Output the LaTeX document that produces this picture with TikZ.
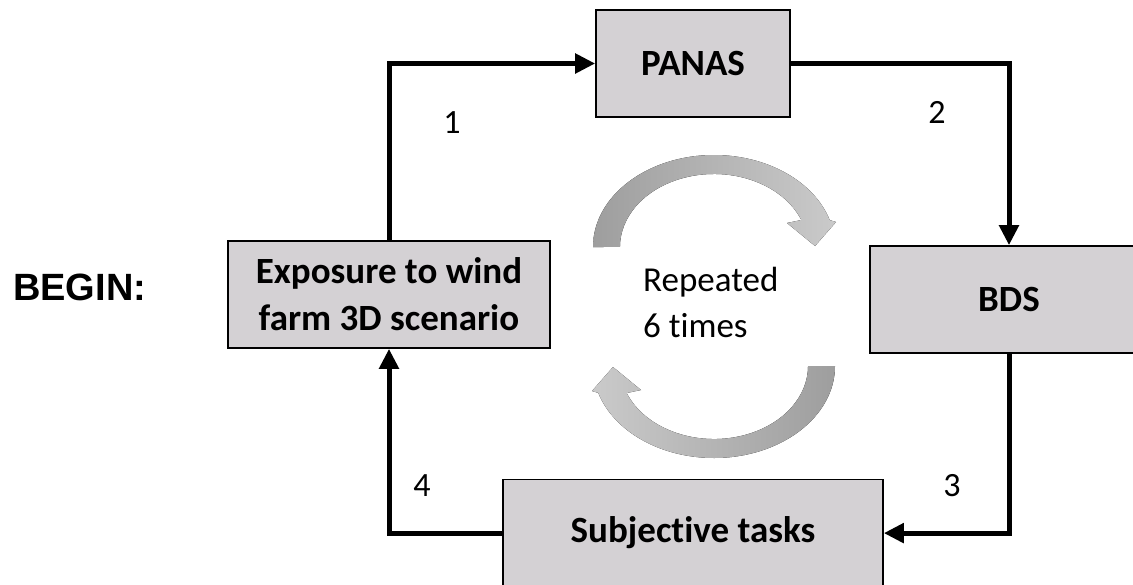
\documentclass[tikz,border=0pt]{standalone}
\usepackage{fontspec}
\setmainfont{Carlito}[Ligatures=NoCommon]
\newfontfamily\beginfont{Liberation Sans}
\usetikzlibrary{arrows.meta,positioning,calc}
\definecolor{boxgray}{RGB}{212,209,212}
\definecolor{ringdark}{RGB}{158,158,158}
\definecolor{ringlight}{RGB}{202,202,202}
\tikzset{
  % Define standard arrow tip
  >={Triangle[length=20pt,width=19pt]},
  % Define style for boxes
  box/.style={
    rectangle,
    draw=black, line width=1.6pt,
    fill=boxgray,
    minimum height=107pt,
    inner sep=0pt,
    align=center,
    font=\fontsize{37}{47}\selectfont\bfseries},
  % Define style for the step numbers
  num/.style={
    inner sep=0pt,
    font=\fontsize{34}{40}\selectfont},
  % line
  line/.style = {draw, ->, line width=5pt},
}

\begin{document}
\begin{tikzpicture}[x=1pt, y=-1pt]
  \useasboundingbox (0,0) rectangle (1133,584);
  \fill[white] (0,0) rectangle (1133,584);
  % nodes
  \node[box, minimum width=194pt] (panas) at (693,63.5) {PANAS};
  \node[box, minimum width=380pt, below=361pt of panas] (subj) {Subjective tasks};
  \node[box, minimum width=322pt] (expo) at (389,294.5) {Exposure to wind\\farm 3D scenario};
  \node[box, minimum width=278pt] (bds) at (1009,299.5) {BDS};
  \node[anchor=base west, inner sep=0pt,
    font=\beginfont\fontsize{38}{40}\selectfont\bfseries] (start) at (13,300) {BEGIN:};
  \node[align=left, anchor=north west, inner sep=0pt,
    font=\fontsize{35}{46}\selectfont] (rep) at (643,267) {Repeated\\6 times};
  % numbers
  \node[num] (n1) at (452,123) {1};
  \node[num] (n2) at (937,112) {2};
  \node[num] (n3) at (952,486) {3};
  \node[num] (n4) at (422,486) {4};
  % connectors
  \path[line] (expo.north) |- (panas.west);
  \path[line] (panas.east) -| (bds.north);
  \path[line] (bds.south) |- (subj.east);
  \path[line] (subj.west) -| (expo.south);
  % round arrows
  \fill[left color=ringdark, right color=ringlight]
    (593,247) arc[start angle=180, end angle=343, x radius=121, y radius=92]
    -- (836,222) -- (815,246) -- (787,223) -- (801.3,220)
    arc[start angle=338.3, end angle=180, x radius=94, y radius=73] -- cycle;
  \fill[left color=ringlight, right color=ringdark]
    (835,366) arc[start angle=0, end angle=163, x radius=121, y radius=92]
    -- (592,391) -- (613,367) -- (641,390) -- (626.7,393)
    arc[start angle=158.3, end angle=0, x radius=94, y radius=73] -- cycle;
\end{tikzpicture}
\end{document}
